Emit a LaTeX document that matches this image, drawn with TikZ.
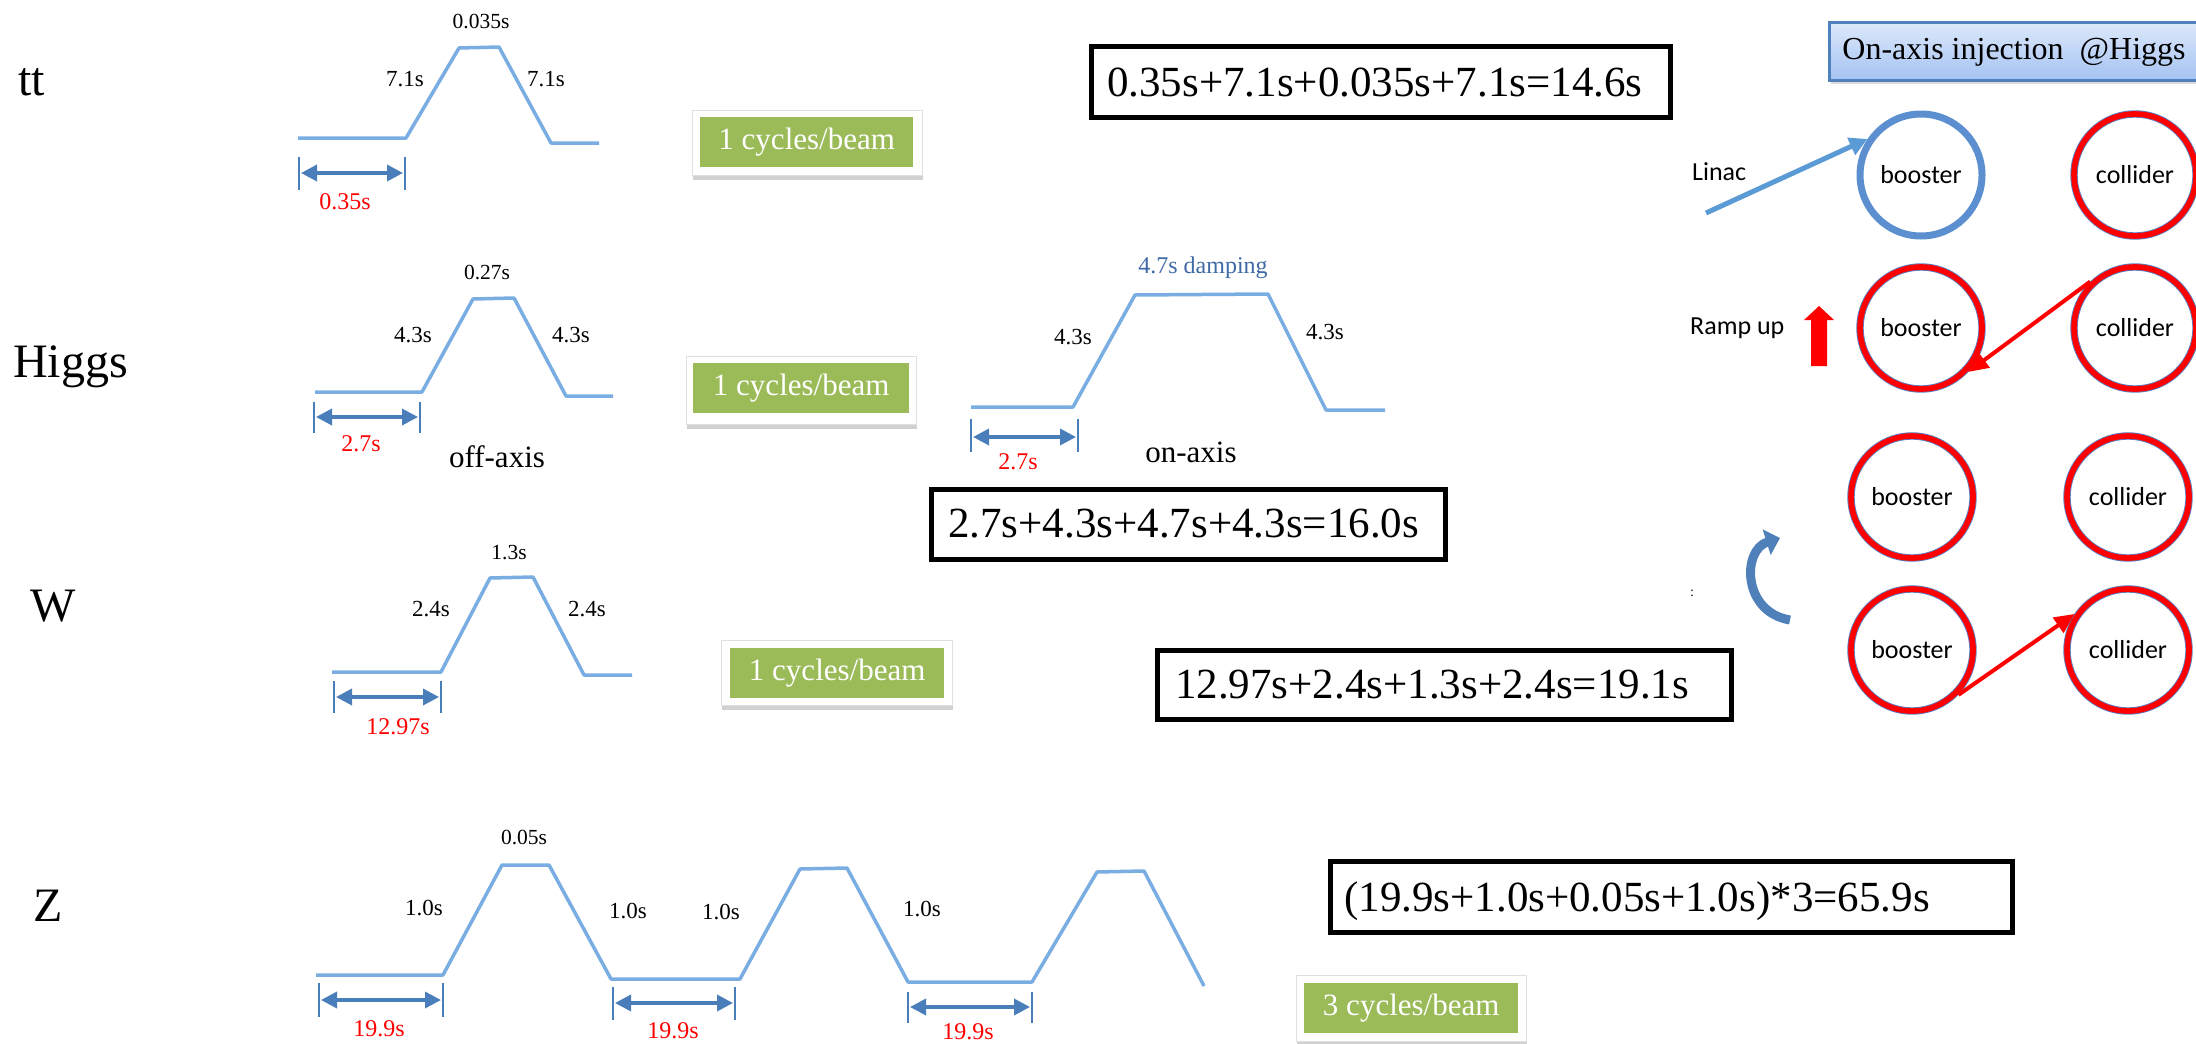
\documentclass[tikz,border=0pt]{standalone}
\usepackage{fontspec}
\setmainfont{Liberation Serif}
\newfontfamily\calib{Carlito}
\usetikzlibrary{arrows.meta,shadows}
\definecolor{wavec}{HTML}{7AAEE2}
\definecolor{dimc}{HTML}{4A7EBB}
\definecolor{grn}{HTML}{9BBB59}
\definecolor{ringblue}{HTML}{5B8FD0}
\definecolor{edgeblue}{HTML}{5B7FC0}
\definecolor{dampc}{HTML}{3F6AA6}
\definecolor{hdrtop}{HTML}{DDE9FB}
\definecolor{hdrbot}{HTML}{A4C2F2}
\definecolor{hdredge}{HTML}{4F81BD}
\definecolor{curvc}{HTML}{4F80BA}
\definecolor{linacc}{HTML}{5B9BD5}
\begin{document}
\begin{tikzpicture}[x=1pt,y=-1pt,
  wave/.style={draw=wavec, line width=3.5, line join=round},
  tick/.style={draw=dimc, line width=1.5},
  span/.style={draw=dimc, line width=3.5, {Triangle[length=16,width=16]}-{Triangle[length=16,width=16]}},
  lbl/.style={inner sep=0, font=\fontsize{23}{25}\selectfont},
  toplbl/.style={inner sep=0, font=\fontsize{21.5}{24}\selectfont},
  redlbl/.style={inner sep=0, text=red, font=\fontsize{24}{26}\selectfont},
  axlbl/.style={inner sep=0, font=\fontsize{31}{33}\selectfont},
  rowlbl/.style={inner sep=0, anchor=base west, font=\fontsize{48}{50}\selectfont},
  eqbox/.style={draw=black, line width=5, inner sep=0, anchor=north west},
  eqtxt/.style={inner sep=0, anchor=base west, font=\fontsize{43}{45}\selectfont},
  cycframe/.style={fill=white, draw=black!12, line width=1, anchor=north west, inner sep=0,
     drop shadow={shadow xshift=0pt, shadow yshift=-4pt, fill=black!40, opacity=0.45}},
  cyc/.style={fill=grn, text=white, font=\fontsize{31}{33}\selectfont, inner sep=0, anchor=north west},
  ring/.style={circle, minimum size=122, inner sep=0, outer sep=3.5, font=\calib\fontsize{26}{28}\selectfont},
  redring/.style={ring, draw=edgeblue, double=red, double distance=5.6, line width=0.9},
  bluering/.style={ring, draw=ringblue, line width=7},
  sidelbl/.style={inner sep=0, anchor=west, font=\calib\fontsize{26}{28}\selectfont},
  redarrow/.style={draw=red, line width=4, -{Triangle[length=20,width=18]}},
  linacarrow/.style={draw=linacc, line width=5, -{Triangle[length=18,width=18]}}
]
\useasboundingbox[fill=white] (0,0) rectangle (2196,1044);

% ---------- row labels ----------
\node[rowlbl] (ltt) at (18,95) {tt};
\node[rowlbl] (lhiggs) at (13,377) {Higgs};
\node[rowlbl] (lw) at (30,621) {W};
\node[rowlbl] (lz) at (33,921) {Z};

% ---------- tt ----------
\draw[wave] (298,138)--(406,138)--(459,48)--(499,47)--(551,143)--(599,143);
\node[toplbl] (tttop) at (481,22) {0.035s};
\node[lbl] (ttl) at (405,79) {7.1s};
\node[lbl] (ttr) at (546,79) {7.1s};
\draw[tick] (299,157)--(299,190);
\draw[tick] (405,157)--(405,190);
\draw[span] (301,173)--(403,173);
\node[redlbl] (ttred) at (345,202) {0.35s};
\node[cycframe, minimum width=230, minimum height=65] (cfa) at (692,110) {};
\node[cyc, minimum width=213, minimum height=50] (cya) at (700,117) {1 cycles/beam};
\node[eqbox, minimum width=579, minimum height=71] (eqtt) at (1089,44) {};
\node[eqtxt] (eqtttxt) at (1107,96) {0.35s+7.1s+0.035s+7.1s=14.6s};

% ---------- Higgs off-axis ----------
\draw[wave] (315,392)--(422,392)--(473,299)--(514,298)--(566,396)--(613,396);
\node[toplbl] (htop) at (487,273) {0.27s};
\node[lbl] (hl) at (413,335) {4.3s};
\node[lbl] (hr) at (571,335) {4.3s};
\draw[tick] (314,402)--(314,433);
\draw[tick] (420,402)--(420,433);
\draw[span] (316,417)--(418,417);
\node[redlbl] (hred) at (361,444) {2.7s};
\node[axlbl] (offax) at (497,457) {off-axis};
\node[cycframe, minimum width=230, minimum height=68] (cfb) at (686,356) {};
\node[cyc, minimum width=216, minimum height=50] (cyb) at (693,363) {1 cycles/beam};

% ---------- Higgs on-axis ----------
\draw[wave] (971,407)--(1073,407)--(1135,295)--(1268,294)--(1326,410)--(1385,410);
\node[inner sep=0, anchor=base, text=dampc, font=\fontsize{24}{26}\selectfont] (damp) at (1203,273) {4.7s damping};
\node[lbl] (onl) at (1073,337) {4.3s};
\node[lbl] (onr) at (1325,332) {4.3s};
\draw[tick] (971,419)--(971,452);
\draw[tick] (1078,419)--(1078,452);
\draw[span] (973,437)--(1076,437);
\node[redlbl] (onred) at (1018,462) {2.7s};
\node[axlbl] (onax) at (1191,452) {on-axis};
\node[eqbox, minimum width=514, minimum height=70] (eqh) at (929,487) {};
\node[eqtxt] (eqhtxt) at (948,537) {2.7s+4.3s+4.7s+4.3s=16.0s};

% ---------- W ----------
\draw[wave] (332,672)--(441,672)--(490,578)--(533,577)--(584,675)--(632,675);
\node[toplbl] (wtop) at (509,553) {1.3s};
\node[lbl] (wl) at (431,609) {2.4s};
\node[lbl] (wr) at (587,609) {2.4s};
\draw[tick] (334,681)--(334,713);
\draw[tick] (441,681)--(441,713);
\draw[span] (336,697)--(439,697);
\node[redlbl] (wred) at (398,727) {12.97s};
\node[cycframe, minimum width=231, minimum height=65] (cfc) at (721,640) {};
\node[cyc, minimum width=214, minimum height=50] (cyc) at (730,648) {1 cycles/beam};
\node[eqbox, minimum width=574, minimum height=69] (eqw) at (1155,648) {};
\node[eqtxt] (eqwtxt) at (1175,698) {12.97s+2.4s+1.3s+2.4s=19.1s};

% ---------- Z ----------
\draw[wave] (316,975)--(443,975)--(502,865)--(549,865)--(611,979)--(740,979)--(800,869)--(847,868)--(908,982)--(1032,982)--(1097,872)--(1144,871)--(1204,986);
\node[toplbl] (ztop) at (524,837) {0.05s};
\node[lbl] (z1) at (424,908) {1.0s};
\node[lbl] (z2) at (628,911) {1.0s};
\node[lbl] (z3) at (721,912) {1.0s};
\node[lbl] (z4) at (922,909) {1.0s};
\draw[tick] (319,983)--(319,1017);
\draw[tick] (443,983)--(443,1017);
\draw[span] (321,1000)--(441,1000);
\draw[tick] (613,987)--(613,1020);
\draw[tick] (735,987)--(735,1020);
\draw[span] (615,1003)--(733,1003);
\draw[tick] (908,992)--(908,1023);
\draw[tick] (1032,992)--(1032,1023);
\draw[span] (910,1007)--(1030,1007);
\node[redlbl] (zr1) at (379,1029) {19.9s};
\node[redlbl] (zr2) at (673,1031) {19.9s};
\node[redlbl] (zr3) at (968,1032) {19.9s};
\node[eqbox, minimum width=682, minimum height=71] (eqz) at (1328,859) {};
\node[eqtxt] (eqztxt) at (1344,911) {(19.9s+1.0s+0.05s+1.0s)*3=65.9s};
\node[cycframe, minimum width=230, minimum height=66] (cfd) at (1296,975) {};
\node[cyc, minimum width=214, minimum height=50] (cyd) at (1304,983) {3 cycles/beam};

% ---------- right panel ----------
\node[anchor=north west, minimum width=390, minimum height=58, inner sep=0,
      top color=hdrtop, bottom color=hdrbot, draw=hdredge, line width=2.5,
      drop shadow={shadow xshift=2pt, shadow yshift=-4pt, fill=black!40, opacity=0.35}] (hdr) at (1828,21) {};
\node[inner sep=0, font=\fontsize{32}{34}\selectfont] (hdrtxt) at (2014,52) {On-axis injection\ \ @Higgs};

\node[bluering] (b1) at (1921,175) {booster};
\node[redring] (c1) at (2135,175) {collider};
\node[redring] (b2) at (1921,328) {booster};
\node[redring] (c2) at (2135,328) {collider};
\node[redring] (b3) at (1912,497) {booster};
\node[redring] (c3) at (2128,497) {collider};
\node[redring] (b4) at (1912,650) {booster};
\node[redring] (c4) at (2128,650) {collider};

\node[sidelbl] (linac) at (1692,172) {Linac};
\coordinate (linac0) at (1706,213);
\draw[linacarrow] (linac0) -- (b1.146);

\node[sidelbl] (ramp) at (1690,328) {Ramp up};
\fill[red] (1811,366) -- (1811,320) -- (1804,320) -- (1819,306) -- (1834,320) -- (1827,320) -- (1827,366) -- cycle;

\draw[redarrow] (c2.134) -- (b2.-43);
\draw[redarrow] (b4.-44) -- (c4.146);

\draw[draw=curvc, line width=9, -{Triangle[length=14,width=26]}] (1790,620) .. controls (1742,612) and (1742,550) .. (1780,538);
\node[inner sep=0, font=\fontsize{14}{16}\selectfont] (colon) at (1692,593) {:};
\end{tikzpicture}
\end{document}
